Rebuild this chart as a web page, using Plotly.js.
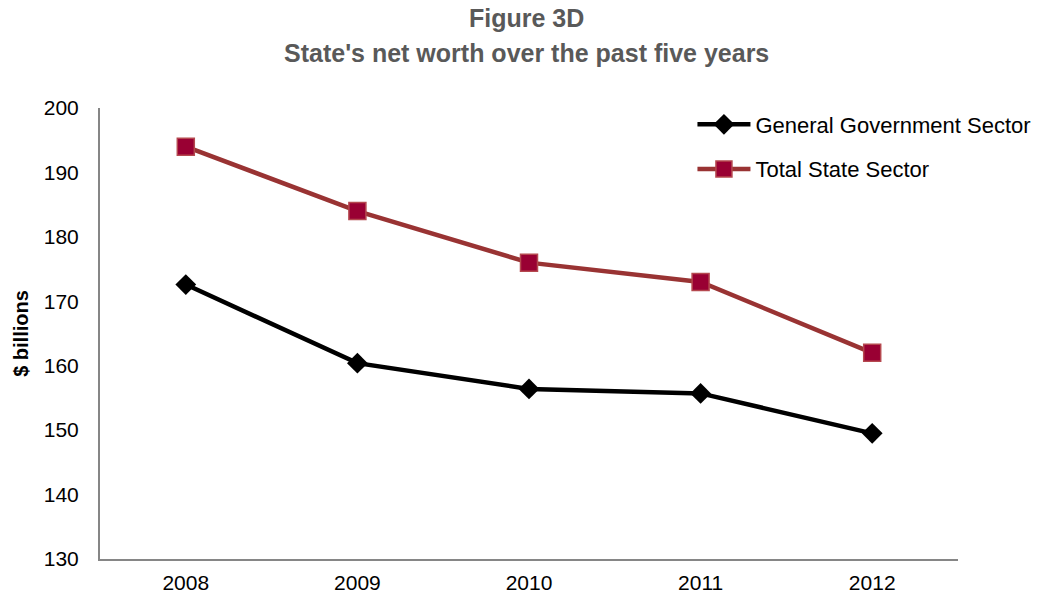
<!DOCTYPE html>
<html>
<head>
<meta charset="utf-8">
<script src="https://cdn.plot.ly/plotly-3.0.1.min.js"></script>
<style>html,body{margin:0;padding:0;background:#fff;}#chart{width:1038px;height:594px;}</style>
</head>
<body>
<div id="chart"></div>
<script>
const years = ['2008', '2009', '2010', '2011', '2012'];
const generalGovernment = [172.6, 160.4, 156.4, 155.7, 149.5];
const totalState = [194.0, 184.0, 176.0, 173.0, 162.0];
const yTicks = [130, 140, 150, 160, 170, 180, 190, 200];
const titleLines = ['Figure 3D', "State's net worth over the past five years"];

const traces = [
  {
    x: years, y: generalGovernment, type: 'scatter', mode: 'lines+markers',
    name: 'General Government Sector', legendgroup: 'g1',
    line: {color: '#000000', width: 4.5},
    marker: {symbol: 'diamond', size: 16, color: '#000000'}
  },
  {
    x: years, y: totalState, type: 'scatter', mode: 'lines+markers',
    name: 'Total State Sector', legendgroup: 'g2',
    line: {color: '#993333', width: 4.5},
    marker: {symbol: 'square', size: 17, color: '#990033', line: {color: '#b5484f', width: 1.5}}
  }
];

const titleFont = {family: 'Liberation Sans, Arial, sans-serif', size: 25, color: '#595959'};

const layout = {
  width: 1038, height: 594,
  margin: {l: 100, r: 80, t: 108, b: 35, autoexpand: false},
  paper_bgcolor: '#ffffff', plot_bgcolor: '#ffffff',
  font: {family: 'Liberation Sans, Arial, sans-serif', size: 21, color: '#000000'},
  annotations: [
    {text: '<b>' + titleLines[0] + '</b>', xref: 'paper', yref: 'paper', x: 0.497, y: 1.1996,
     xanchor: 'center', yanchor: 'middle', showarrow: false, font: titleFont},
    {text: '<b>' + titleLines[1] + '</b>', xref: 'paper', yref: 'paper', x: 0.497, y: 1.122,
     xanchor: 'center', yanchor: 'middle', showarrow: false, font: titleFont}
  ],
  showlegend: true,
  legend: {
    x: 0.6905, xanchor: 'left', y: 1.0100, yanchor: 'top',
    font: {size: 22, color: '#000000'},
    itemwidth: 53,
    bgcolor: 'rgba(0,0,0,0)', traceorder: 'grouped', tracegroupgap: 13
  },
  xaxis: {
    type: 'category', range: [-0.5, 4.5],
    showline: true, linecolor: '#868686', linewidth: 2,
    showgrid: false, zeroline: false, ticks: '',
    ticklabelstandoff: 4, fixedrange: true
  },
  yaxis: {
    range: [130, 200], tickvals: yTicks,
    showline: true, linecolor: '#868686', linewidth: 2,
    showgrid: false, zeroline: false, ticks: '',
    ticklabelstandoff: 15,
    title: {text: '<b>$ billions</b>', font: {size: 20, color: '#000000'}, standoff: 10},
    fixedrange: true
  }
};

Plotly.newPlot('chart', traces, layout, {displayModeBar: false, staticPlot: true});
</script>
</body>
</html>
